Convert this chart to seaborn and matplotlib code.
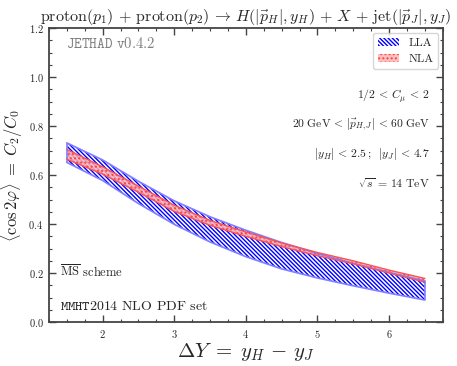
import numpy as np
import pandas as pd
import matplotlib
matplotlib.use("Agg")
import matplotlib.pyplot as plt
from matplotlib.ticker import MultipleLocator
import seaborn as sns

# values
dY = [1.5, 2.0, 2.5, 3.0, 3.5, 4.0, 4.5, 5.0, 5.5, 6.0, 6.5]
lla_up = [0.732, 0.662, 0.575, 0.495, 0.43, 0.375, 0.325, 0.28, 0.24, 0.203, 0.168]
lla_lo = [0.652, 0.578, 0.484, 0.399, 0.327, 0.267, 0.217, 0.18, 0.148, 0.118, 0.09]
nla_up = [0.705, 0.634, 0.555, 0.477, 0.415, 0.368, 0.323, 0.284, 0.25, 0.212, 0.178]
nla_lo = [0.665, 0.604, 0.530, 0.452, 0.395, 0.350, 0.308, 0.271, 0.238, 0.200, 0.163]

df = pd.DataFrame({"dY": dY, "lla_up": lla_up, "lla_lo": lla_lo,
                   "nla_up": nla_up, "nla_lo": nla_lo})

sns.set_theme(style="ticks")
plt.rcParams["font.family"] = "serif"
plt.rcParams["font.serif"] = ["cmr10"]
plt.rcParams["mathtext.fontset"] = "cm"
plt.rcParams["axes.formatter.use_mathtext"] = True
plt.rcParams["hatch.linewidth"] = 1.0

fig = plt.figure(figsize=(4.57, 3.66), dpi=100)
ax = fig.add_axes([0.107, 0.12, 0.862, 0.803])

# LLA band
ax.fill_between(df["dY"], df["lla_lo"], df["lla_up"], facecolor="white",
                edgecolor="blue", hatch="\\" * 8, linewidth=0, label="LLA")
sns.lineplot(data=df, x="dY", y="lla_up", ax=ax, color="#8080ff", lw=1.2)
sns.lineplot(data=df, x="dY", y="lla_lo", ax=ax, color="#8080ff", lw=1.2)
ax.vlines([dY[0], dY[-1]], [lla_lo[0], lla_lo[-1]], [lla_up[0], lla_up[-1]],
          color="#8080ff", lw=1.2)

# NLA band
ax.fill_between(df["dY"], df["nla_lo"], df["nla_up"], facecolor="#ffb8b8",
                edgecolor="#ff3030", hatch="....", linewidth=0, alpha=0.85, label="NLA")
sns.lineplot(data=df, x="dY", y="nla_up", ax=ax, color="#ff5050", lw=1.0)
sns.lineplot(data=df, x="dY", y="nla_lo", ax=ax, color="#ff5050", lw=1.0)

ax.set_xlim(1.25, 6.75)
ax.set_ylim(0.0, 1.2)
ax.xaxis.set_major_locator(MultipleLocator(1))
ax.xaxis.set_minor_locator(MultipleLocator(0.25))
ax.yaxis.set_major_locator(MultipleLocator(0.2))
ax.yaxis.set_minor_locator(MultipleLocator(0.05))
ax.tick_params(which="both", direction="in", top=True, right=True,
               color="#444444", labelsize=7.5, pad=4)
ax.tick_params(which="major", length=5, width=1.0)
ax.tick_params(which="minor", length=2.5, width=0.8)
for s in ax.spines.values():
    s.set_color("#444444")
    s.set_linewidth(1.3)

ax.set_xlabel(r"$\Delta Y \;=\; y_H \,-\, y_J$", fontsize=15, labelpad=1)
ax.set_ylabel(r"$\langle \cos 2\varphi \rangle \;=\; C_2/C_0$", fontsize=12)
ax.yaxis.set_label_coords(-0.06, 0.5)
ax.set_title(r"$\mathrm{proton}(p_1)\,+\,\mathrm{proton}(p_2)\,\to\,H(|\vec{p}_H|,y_H)\,+\,X\,+\,\mathrm{jet}(|\vec{p}_J|,y_J)$",
             fontsize=11.5, pad=5)

ax.text(0.043, 0.949, r"$\mathtt{JETHAD\ v0.4.2}$", transform=ax.transAxes,
        color="gray", fontsize=10.5, va="center", ha="left")
ax.text(0.967, 0.769, r"$1/2 \,<\, C_\mu \,<\, 2$", transform=ax.transAxes,
        fontsize=8.5, ha="right", va="center")
ax.text(0.967, 0.67, r"$20\ \mathrm{GeV} \,<\, |\vec{p}_{H,J}| \,<\, 60\ \mathrm{GeV}$",
        transform=ax.transAxes, fontsize=8.3, ha="right", va="center")
ax.text(0.967, 0.571, r"$|y_H| \,<\, 2.5\,;\;\;|y_J| \,<\, 4.7$", transform=ax.transAxes,
        fontsize=8.5, ha="right", va="center")
ax.text(0.967, 0.473, r"$\sqrt{s} \,=\, 14\ \mathrm{TeV}$", transform=ax.transAxes,
        fontsize=8.5, ha="right", va="center")
ax.text(0.028, 0.17, r"$\overline{\mathrm{MS}}$ scheme", transform=ax.transAxes,
        fontsize=9, ha="left", va="center")
ax.text(0.028, 0.054, r"$\mathtt{MMHT2014}$ NLO PDF set", transform=ax.transAxes,
        fontsize=10, ha="left", va="center")

handles, labels = ax.get_legend_handles_labels()
keep = [i for i, l in enumerate(labels) if l in ("LLA", "NLA")]
ax.legend([handles[i] for i in keep], [labels[i] for i in keep],
          loc="upper right", fontsize=8.5, frameon=True, fancybox=True,
          handlelength=1.8, borderaxespad=0.4)

fig.savefig("out.png", dpi=100)
